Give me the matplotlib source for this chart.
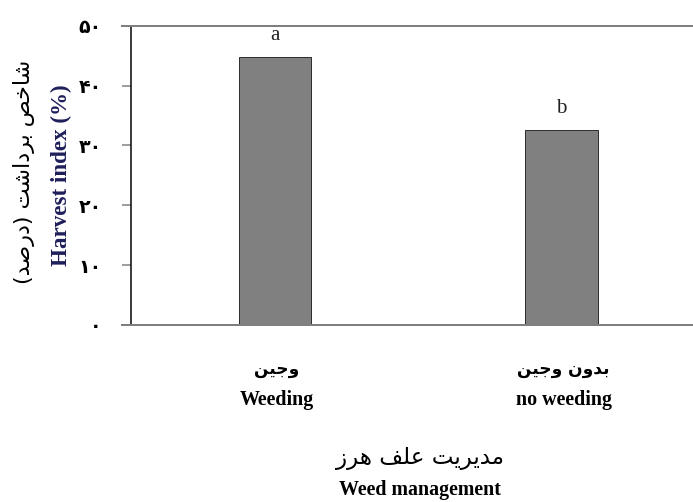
import matplotlib
matplotlib.use("Agg")
import matplotlib.pyplot as plt

# ---------------- data ----------------
categories_fa = ["وجین", "بدون وجین"]
categories_en = ["Weeding", "no weeding"]
harvest_index = [44.7, 32.5]
letters = ["a", "b"]
yticks = [0, 10, 20, 30, 40, 50]
ytick_labels = ["۰", "۱۰", "۲۰", "۳۰", "۴۰", "۵۰"]
ylabel_fa = "شاخص برداشت (درصد)"
ylabel_en = "Harvest index (%)"
xlabel_fa = "مدیریت علف هرز"
xlabel_en = "Weed management"

# ------------- simple Arabic/Persian shaping -------------
FORMS = {
    'ا': ('\uFE8D', '\uFE8E', None, None),
    'ب': ('\uFE8F', '\uFE90', '\uFE91', '\uFE92'),
    'ت': ('\uFE95', '\uFE96', '\uFE97', '\uFE98'),
    'ج': ('\uFE9D', '\uFE9E', '\uFE9F', '\uFEA0'),
    'خ': ('\uFEA5', '\uFEA6', '\uFEA7', '\uFEA8'),
    'د': ('\uFEA9', '\uFEAA', None, None),
    'ر': ('\uFEAD', '\uFEAE', None, None),
    'ز': ('\uFEAF', '\uFEB0', None, None),
    'ش': ('\uFEB5', '\uFEB6', '\uFEB7', '\uFEB8'),
    'ص': ('\uFEB9', '\uFEBA', '\uFEBB', '\uFEBC'),
    'ع': ('\uFEC9', '\uFECA', '\uFECB', '\uFECC'),
    'ف': ('\uFED1', '\uFED2', '\uFED3', '\uFED4'),
    'ل': ('\uFEDD', '\uFEDE', '\uFEDF', '\uFEE0'),
    'م': ('\uFEE1', '\uFEE2', '\uFEE3', '\uFEE4'),
    'ن': ('\uFEE5', '\uFEE6', '\uFEE7', '\uFEE8'),
    'ه': ('\uFEE9', '\uFEEA', '\uFEEB', '\uFEEC'),
    'و': ('\uFEED', '\uFEEE', None, None),
    'ی': ('\uFBFC', '\uFBFD', '\uFBFE', '\uFBFF'),
}


def shape(s):
    out = []
    for i, c in enumerate(s):
        if c not in FORMS:
            out.append(c)
            continue
        iso, fin, ini, med = FORMS[c]
        prev = s[i - 1] if i > 0 else None
        nxt = s[i + 1] if i + 1 < len(s) else None
        jp = prev in FORMS and FORMS[prev][2] is not None
        jn = nxt in FORMS and ini is not None
        if jp and jn:
            out.append(med)
        elif jp:
            out.append(fin)
        elif jn:
            out.append(ini)
        else:
            out.append(iso)
    vis = ''.join(reversed(out))
    return vis.translate(str.maketrans('()', ')('))


W, H = 693, 502
DPI = 72
fig = plt.figure(figsize=(W / DPI, H / DPI), dpi=DPI)
ax = fig.add_axes([131 / W, 177 / H, (W - 131) / W, (325 - 25.7) / H])

x = list(range(len(harvest_index)))
bars = ax.bar(x, harvest_index, width=0.252, color="#808080",
              edgecolor="#303030", linewidth=1.0, zorder=3)
ax.set_xlim(-0.5026, 1.459)
ax.set_ylim(0, 50)

for xi, v, l in zip(x, harvest_index, letters):
    ax.annotate(l, (xi, v), xytext=(0, 12), textcoords="offset points",
                ha="center", va="bottom", fontsize=21,
                family="Liberation Serif", color="#222222")

for s in ["top", "right", "bottom"]:
    ax.spines[s].set_visible(False)
ax.spines["left"].set_color("black")
ax.spines["left"].set_linewidth(1.5)
ax.set_xticks([])
ax.set_yticks(yticks, labels=ytick_labels)
ax.tick_params(axis="y", direction="out", length=9, width=1.5, color="#7f7f7f",
               pad=20, labelsize=19)
for t in ax.get_yticklabels():
    t.set_fontweight("bold")
    t.set_family("DejaVu Sans")

# grey horizontal lines at axis bottom and top
for yv in (yticks[0], yticks[-1]):
    ax.plot([-0.016, 1.0], [yv, yv], transform=ax.get_yaxis_transform(),
            color="#7f7f7f", linewidth=2, clip_on=False, zorder=4)

# x category labels
for xi, fa, en in zip(x, categories_fa, categories_en):
    ax.annotate(shape(fa), (xi + 0.007, H - 369), xycoords=("data", "figure pixels"),
                ha="center", va="center", fontsize=17, fontweight="bold",
                family="DejaVu Sans")
    ax.annotate(en, (xi + 0.007, H - 400), xycoords=("data", "figure pixels"),
                ha="center", va="center", fontsize=20, fontweight="bold",
                family="Liberation Serif")

fig.text(420 / W, 1 - 458 / H, shape(xlabel_fa), ha="center", va="center",
         fontsize=23, family="DejaVu Sans")
fig.text(420 / W, 1 - 490 / H, xlabel_en, ha="center", va="center",
         fontsize=20, fontweight="bold", family="Liberation Serif")

fig.text(24 / W, 1 - 171.5 / H, shape(ylabel_fa), ha="center", va="center",
         rotation=90, fontsize=22.3, family="DejaVu Sans")
fig.text(61 / W, 1 - 175 / H, ylabel_en, ha="center", va="center",
         rotation=90, fontsize=23, fontweight="bold", family="Liberation Serif",
         color="#1e1e5a")

fig.savefig("out.png", dpi=DPI)
